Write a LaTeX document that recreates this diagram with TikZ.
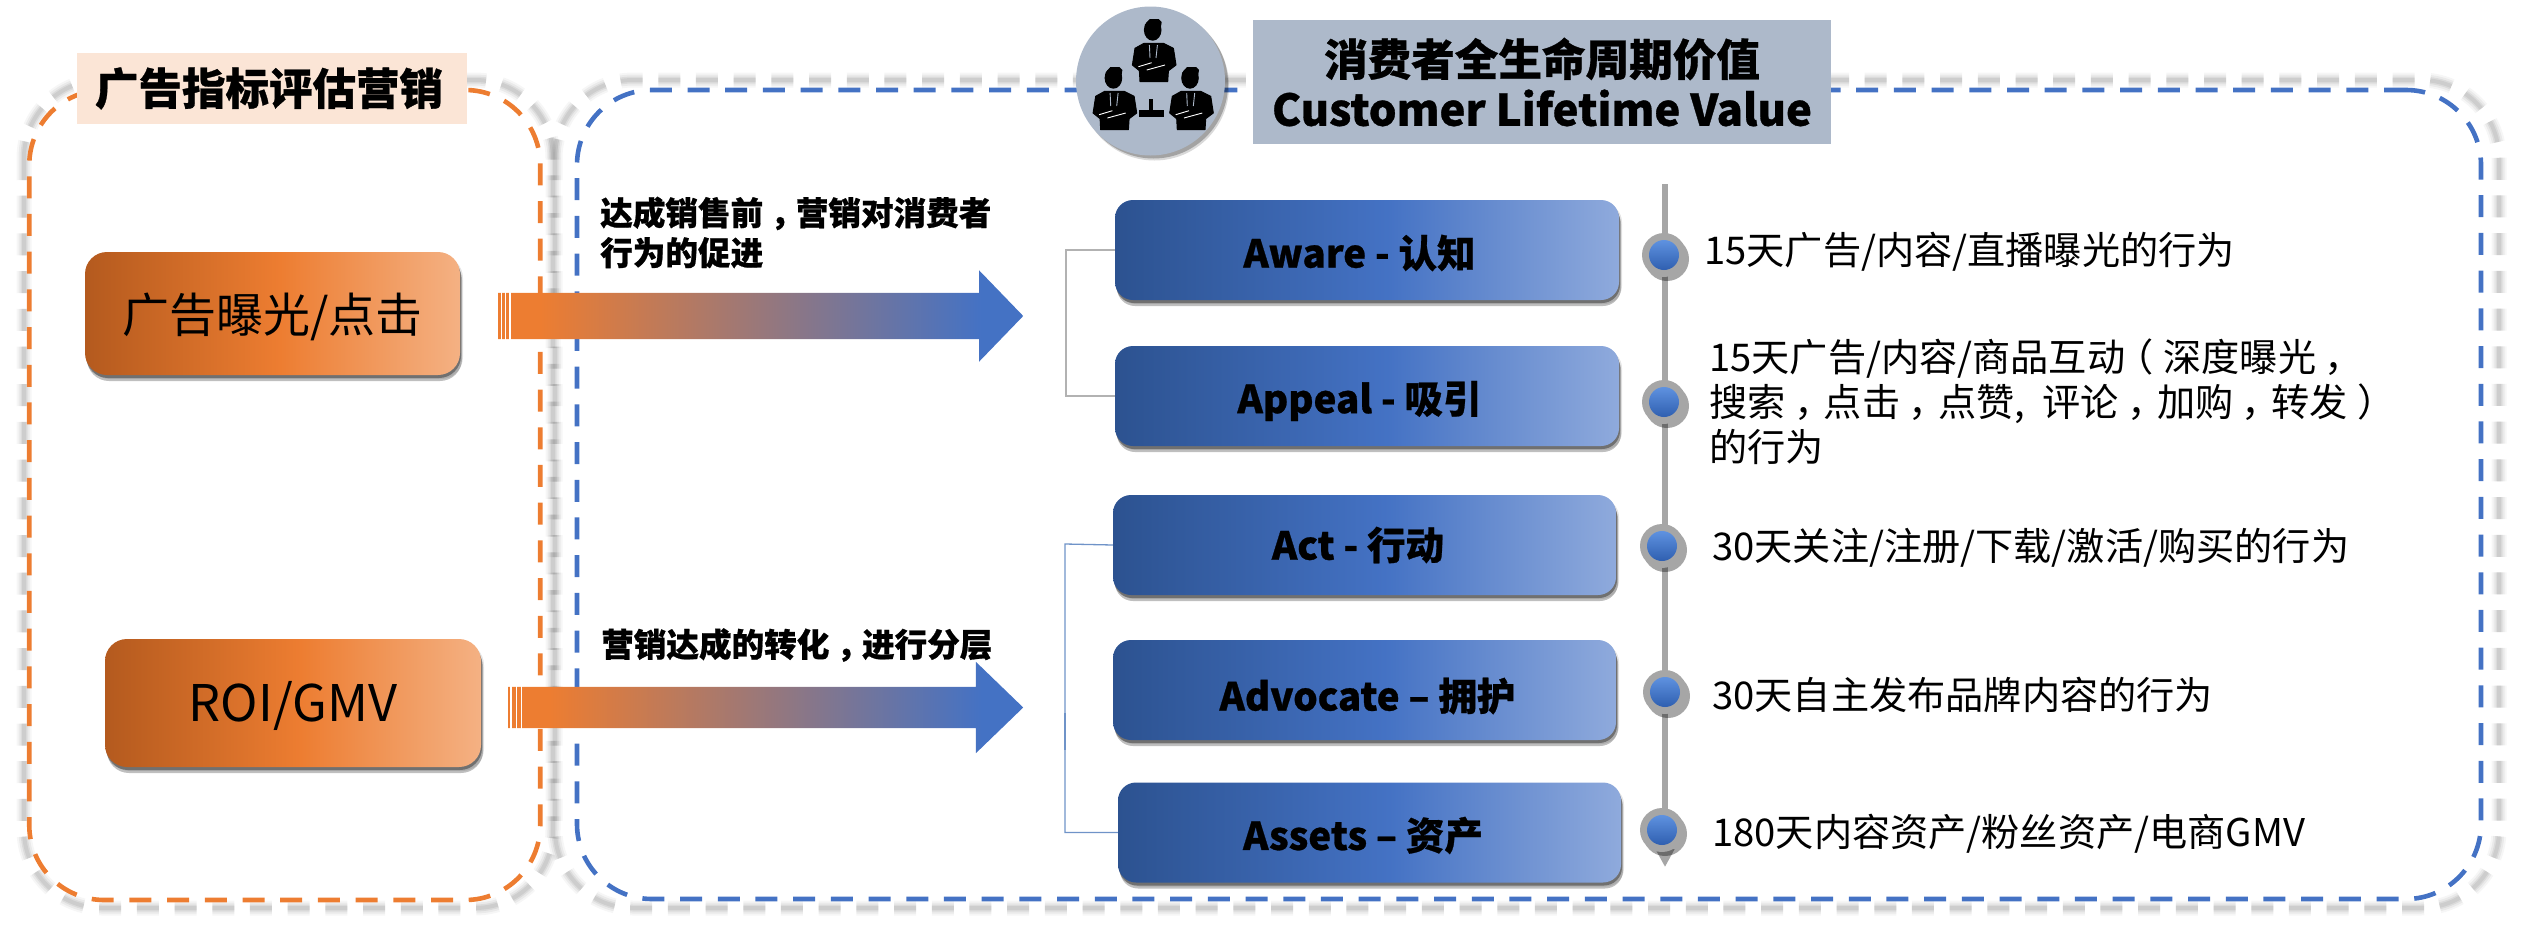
\documentclass[tikz,border=0pt]{standalone}
\usepackage{fontspec}
\setmainfont{Noto Sans CJK SC}[BoldFeatures={FakeBold=0.7}]
\usetikzlibrary{shapes.arrows,shadows,arrows.meta}
\definecolor{cblue}{HTML}{4472C4}
\definecolor{corange}{HTML}{ED7D31}
\definecolor{slate}{HTML}{ADB9CA}
\definecolor{peach}{HTML}{FBE5D6}
\definecolor{tline}{HTML}{A6A6A6}
\definecolor{brk}{HTML}{6F93C8}
\definecolor{balltop}{HTML}{5F92E0}
\definecolor{ballbot}{HTML}{2F5FB0}
\pgfdeclarehorizontalshading{bluegrad}{100bp}{
  rgb(0bp)=(0.173,0.322,0.565); rgb(25bp)=(0.173,0.322,0.565);
  rgb(52bp)=(0.267,0.447,0.769);
  rgb(75bp)=(0.561,0.667,0.863); rgb(100bp)=(0.561,0.667,0.863)}
\pgfdeclarehorizontalshading{orangegrad}{100bp}{
  rgb(0bp)=(0.706,0.353,0.118); rgb(25bp)=(0.706,0.353,0.118);
  rgb(51bp)=(0.929,0.49,0.192);
  rgb(75bp)=(0.957,0.694,0.514); rgb(100bp)=(0.957,0.694,0.514)}
\pgfdeclarehorizontalshading{arrowgrad}{100bp}{
  rgb(0bp)=(0.929,0.49,0.192); rgb(29bp)=(0.929,0.49,0.192);
  rgb(71bp)=(0.267,0.447,0.769); rgb(100bp)=(0.267,0.447,0.769)}
\newcommand\fs[1]{\fontsize{#1}{#1}\selectfont}
\newcommand\zc{\kern.22em，\kern-.22em}
\newcommand\zl{\kern-.25em（\kern.25em}
\newcommand\zr{\kern.25em）\kern-.25em}
\newcommand\lowered[2]{\raisebox{-#1pt}[\height][\depth]{#2}}
\tikzset{
  softshadow/.style={
    drop shadow={shadow xshift=3pt,shadow yshift=-4pt,opacity=.10,fill=black},
    drop shadow={shadow xshift=2pt,shadow yshift=-6pt,opacity=.25,fill=black},
    drop shadow={shadow xshift=1pt,shadow yshift=-3pt,opacity=.35,fill=black}},
  bluebox/.style={rectangle,rounded corners=18pt,minimum width=504pt,minimum height=100pt,inner sep=0pt,
    shading=bluegrad,softshadow,font=\bfseries\fs{38.5},text=black},
  orangebox/.style={rectangle,rounded corners=22pt,inner sep=0pt,
    shading=orangegrad,softshadow,text=black},
  framebox/.style={rectangle,rounded corners=75pt,inner sep=0pt,line width=4.6pt,
    dash pattern=on 22pt off 15.7pt,fill=none},
  gshadow/.style={rounded corners=78pt,dash pattern=on 22pt off 15.7pt,draw=gray},
  bigarrow/.style={single arrow,inner xsep=0pt,single arrow head indent=0pt,
    minimum width=91pt,shading=arrowgrad},
  stripe/.style={draw=white,line width=1.6pt},
  blabel/.style={inner sep=0pt,anchor=west,align=left,font=\bfseries\fs{32.6}},
  desc/.style={inner sep=0pt,anchor=west,align=left,font=\fontsize{38.2}{45}\selectfont},
  ring/.style={circle,fill=tline,minimum size=44pt,inner sep=0pt,
    drop shadow={shadow xshift=3pt,shadow yshift=-4pt,opacity=.35,fill=black}},
  ball/.style={circle,minimum size=30pt,inner sep=0pt,top color=balltop,bottom color=ballbot},
  person/.pic={
    \fill[black] (0,0) ellipse[x radius=8.8pt,y radius=10.7pt];
    \fill[black] (-8,-5) -- (-3,-11) -- (6,-11) -- (9,-8) -- (8,-2) -- cycle;
    \filldraw[black,line width=1pt,line join=round] (-8.7,13.3) -- (-17.7,18.3) -- (-20.3,35) -- (-13.3,40.7) -- (-12.7,51.7)
       -- (15,51.7) -- (15.7,40.7) -- (23.3,35) -- (20.7,18.3) -- (10.7,13.3) -- cycle;
    \draw[slate,line width=.9pt] (-3.3,15) -- (-2.7,28) (4.7,15) -- (3.3,28);
    \draw[white,line width=.9pt] (-14.3,36.7) -- (-1,32.7) (-6,40) -- (12.3,35);
  }
}
\begin{document}
\begin{tikzpicture}[x=1pt,y=-1pt]
\useasboundingbox (0,0) rectangle (2528,940);

% frame shadows
\foreach \w/\o in {15/.07,11/.10,7/.14,4/.16}{
  \draw[gshadow,line width=\w pt,opacity=\o] (24,80) rectangle (553,908);
  \draw[gshadow,line width=\w pt,opacity=\o] (555,80) rectangle (2499,908);
}
% frames
\node[framebox,draw=corange,minimum width=511pt,minimum height=810pt] (leftframe) at (284.75,495) {};
\node[framebox,draw=cblue,minimum width=1904pt,minimum height=809pt] (rightframe) at (1529,494.5) {};

% left panel
\node[rectangle,fill=peach,minimum width=390pt,minimum height=71pt,inner sep=0pt,font=\bfseries\fs{43.5}] (lefttitle) at (272,88.5) {\kern-6pt 广告指标评估营销};
\node[orangebox,minimum width=375pt,minimum height=123pt,font=\fs{47}] (exposure) at (272.5,313.5) {\lowered{3}{广告曝光/点击}};
\node[orangebox,minimum width=376pt,minimum height=128pt,font=\fs{50.5}] (roi) at (293,703) {\lowered{3}{ROI/GMV}};

% block arrows
\node[bigarrow,inner ysep=23pt,minimum height=525pt,single arrow head extend=22.5pt,single arrow tip angle=92,anchor=tail] (arrowone) at (498,316) {};
\node[bigarrow,inner ysep=20.5pt,minimum height=515pt,single arrow head extend=25pt,single arrow tip angle=88,anchor=tail] (arrowtwo) at (508,707.5) {};
\foreach \x in {501.5,505.5,510}{\draw[stripe] (\x,292) -- (\x,341);}
\foreach \x in {511,516.5,521.5}{\draw[stripe] (\x,686) -- (\x,729);}

% arrow labels
\node[blabel] (labelone) at (600,232.5) {达成销售前\zc 营销对消费者\\[6pt]行为的促进};
\node[blabel] (labeltwo) at (601,645) {营销达成的转化\zc 进行分层};

% header
\node[circle,fill=slate,minimum size=149pt,inner sep=0pt,
  drop shadow={shadow xshift=4pt,shadow yshift=-5pt,opacity=.15,fill=black},
  drop shadow={shadow xshift=3pt,shadow yshift=-3pt,opacity=.25,fill=black}] (iconbg) at (1150.5,81) {};
\pic at (1152.7,30) {person};
\pic at (1113.4,78) {person};
\pic at (1190,78) {person};
\fill[black] (1149.3,99.3) rectangle (1153.3,110);
\fill[black] (1139.3,110) rectangle (1164.3,117.3);
\node[rectangle,fill=slate,minimum width=578pt,minimum height=124pt,inner sep=0pt,align=center,
  font=\bfseries\fontsize{43.6}{50}\selectfont] (clv) at (1542,82) {消费者全生命周期价值\\Customer Lifetime Value};

% stage boxes
\node[bluebox] (aware) at (1367,250) {\kern-15pt \lowered{3}{Aware - 认知}};
\node[bluebox] (appeal) at (1367,396) {\kern-15pt \lowered{5}{Appeal - 吸引}};
\node[bluebox,minimum width=503pt] (act) at (1364.5,545) {\kern-13pt Act - 行动};
\node[bluebox,minimum width=503pt] (advocate) at (1364.5,690) {\kern6pt \lowered{6}{Advocate – 拥护}};
\node[bluebox,minimum width=503pt] (assets) at (1369.5,832.5) {\kern-13pt \lowered{3}{Assets – 资产}};

% brackets
\coordinate (bracketa) at (1066,250);
\coordinate (bracketb) at (1065,544);
\coordinate (thicka) at (1065,713);
\coordinate (thickb) at (1065,750);
\draw[gray!60,line width=1.2pt] (aware.west) -- (bracketa) |- (appeal.west);
\draw[brk,line width=1.3pt] (act.west) -- (bracketb) |- (assets.west);
\draw[brk,line width=2.5pt] (thicka) -- (thickb);

% timeline
\coordinate (tltop) at (1665,184);
\coordinate (tlend) at (1665,867);
\draw[tline,line width=6pt,-{Triangle[width=18pt,length=18pt]}] (tltop) -- (tlend);
\foreach \n/\x/\y in {a/1664/255,b/1664/402,c/1662/546,d/1665/692,e/1662/830}{
  \node[ring] (ring\n) at (\x,\y) {};
  \node[ball] (ball\n) at (ring\n.center) {};
}

% descriptions
\node[desc] (d1) at (1704,252) {15天广告/内容/直播曝光的行为};
\node[desc] (d2) at (1709,402) {15天广告/内容/商品互动\zl 深度曝光\zc\\搜索\zc 点击\zc 点赞,~~评论\zc 加购\zc 转发\zr\\的行为};
\node[desc] (d3) at (1712,548) {30天关注/注册/下载/激活/购买的行为};
\node[desc] (d4) at (1712,695) {30天自主发布品牌内容的行为};
\node[desc] (d5) at (1712,834) {180天内容资产/粉丝资产/电商GMV};
\end{tikzpicture}
\end{document}
